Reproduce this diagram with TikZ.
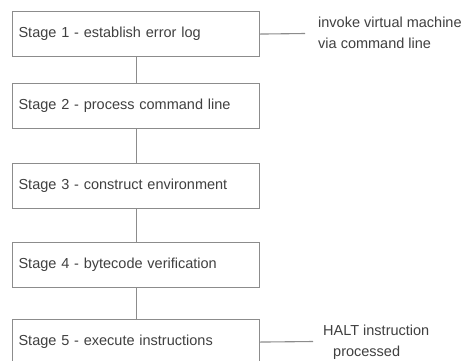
\documentclass[tikz,border=0pt]{standalone}
\usepackage{fontspec}
\setmainfont{Liberation Sans}
\begin{document}
\begin{tikzpicture}[x=1pt,y=-1pt,
  stagebox/.style={draw=black!45, line width=1.1pt, anchor=north west,
    minimum height=45pt, text width=235pt, inner xsep=6pt, align=left,
    text=black!75, font=\fontsize{14.5}{17}\selectfont},
  link/.style={draw=black!45, line width=1.1pt},
  note/.style={anchor=west, inner sep=0pt, text=black!75,
    font=\fontsize{14.5}{17}\selectfont}]
  \clip (0,0) rectangle (466,360);
  \fill[white] (0,0) rectangle (466,360);
  % stages of the virtual machine
  \node[stagebox] (s1) at (12,11)  {Stage 1 - establish error log};
  \node[stagebox] (s2) at (12,83)  {Stage 2 - process command line};
  \node[stagebox] (s3) at (12,163) {Stage 3 - construct environment};
  \node[stagebox] (s4) at (12,242) {Stage 4 - bytecode verification};
  \node[stagebox] (s5) at (12,319) {Stage 5 - execute instructions};
  \draw[link] (s1) -- (s2);
  \draw[link] (s2) -- (s3);
  \draw[link] (s3) -- (s4);
  \draw[link] (s4) -- (s5);
  % entry and exit notes
  \coordinate (inEnd) at (305,33.5);
  \coordinate (outEnd) at (313,341.5);
  \draw[link] (s1.east) -- (inEnd);
  \draw[link] (s5.east) -- (outEnd);
  \node[note] (in1) at (318,22) {invoke virtual machine};
  \node[note] (in2) at (318,43) {via command line};
  \node[note] (out1) at (323,330) {HALT instruction};
  \node[note] (out2) at (333,353) {processed};
\end{tikzpicture}
\end{document}
